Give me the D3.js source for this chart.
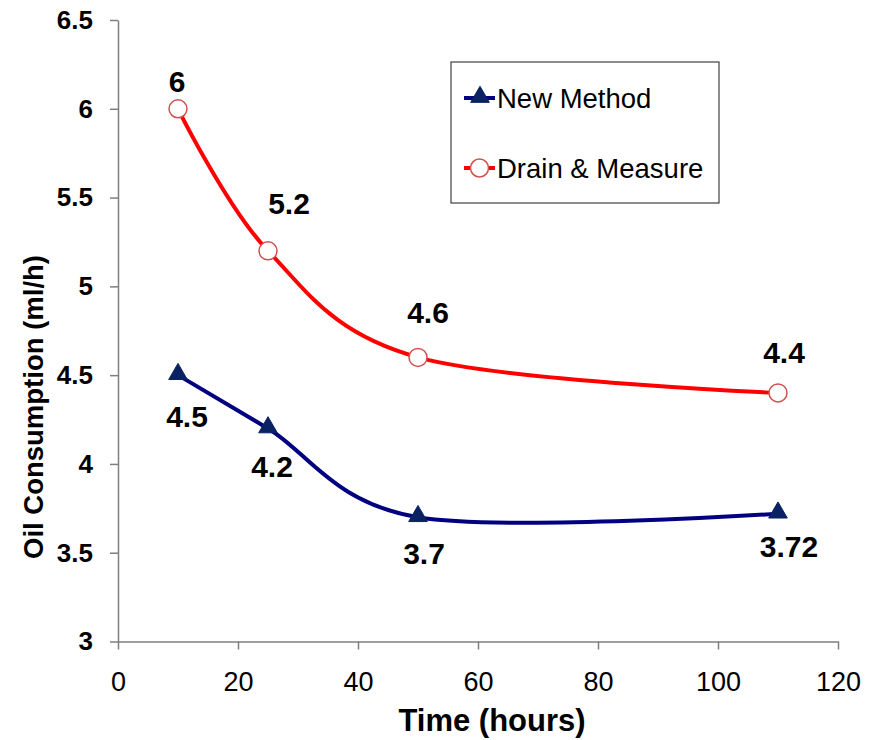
<!DOCTYPE html>
<html>
<head>
<meta charset="utf-8">
<script src="https://cdn.jsdelivr.net/npm/d3@7"></script>
<style>
  html, body { margin: 0; padding: 0; background: #fff; }
  svg { display: block; font-family: "Liberation Sans", Arial, sans-serif; }
</style>
</head>
<body>
<svg id="chart" width="879" height="740"></svg>
<script>
// Oil consumption measured over running time
const hours = [10, 25, 50, 110];
const newMethod = [4.5, 4.2, 3.7, 3.72];
const drainMeasure = [6, 5.2, 4.6, 4.4];
const seriesNames = ["New Method", "Drain & Measure"];
const xTicks = [0, 20, 40, 60, 80, 100, 120];
const yTicks = [3, 3.5, 4, 4.5, 5, 5.5, 6, 6.5];

// hand-placed label nudges (dx, dy from the marker), one per point
const newNudge = [[9, 41], [4, 38], [6, 36], [11, 33]];
const drainNudge = [[-1, -28], [21, -48], [10, -45], [6, -41]];

const svg = d3.select("#chart");
const x = d3.scaleLinear().domain([0, 120]).range([118, 838]);
const y = d3.scaleLinear().domain([3, 6.5]).range([641.5, 20]);
const axisColor = "#7f7f7f";

// y axis
const yAxis = svg.append("g").attr("transform", "translate(118,0)")
  .call(d3.axisLeft(y).tickValues(yTicks).tickSize(8).tickSizeOuter(0).tickPadding(17)
    .tickFormat(d => String(d)));
yAxis.select(".domain").attr("stroke", axisColor).attr("stroke-width", 1.5);
yAxis.selectAll(".tick line").attr("stroke", axisColor).attr("stroke-width", 1.5);
yAxis.selectAll(".tick text").attr("font-size", 26).attr("font-weight", "bold")
  .attr("fill", "#000").attr("font-family", "'Liberation Sans', Arial, sans-serif");

// x axis
const xAxis = svg.append("g").attr("transform", "translate(0,641.5)")
  .call(d3.axisBottom(x).tickValues(xTicks).tickSize(8).tickSizeOuter(0).tickPadding(22));
xAxis.select(".domain").attr("stroke", axisColor).attr("stroke-width", 1.5);
xAxis.selectAll(".tick line").attr("stroke", axisColor).attr("stroke-width", 1.5);
xAxis.selectAll(".tick text").attr("font-size", 27).attr("fill", "#000")
  .attr("font-family", "'Liberation Sans', Arial, sans-serif");

// axis titles
svg.append("text")
  .attr("transform", "translate(43,407) rotate(-90)")
  .attr("text-anchor", "middle").attr("font-size", 27.5).attr("font-weight", "bold")
  .text("Oil Consumption (ml/h)");
svg.append("text")
  .attr("x", 492).attr("y", 731)
  .attr("text-anchor", "middle").attr("font-size", 31).attr("font-weight", "bold")
  .text("Time (hours)");

// smoothed lines
const line = d3.line().x(d => x(d[0])).y(d => y(d[1])).curve(d3.curveCardinal.tension(0));
const newPts = hours.map((h, i) => [h, newMethod[i]]);
const drainPts = hours.map((h, i) => [h, drainMeasure[i]]);

svg.append("path").attr("d", line(drainPts)).attr("fill", "none")
  .attr("stroke", "#ff0000").attr("stroke-width", 4);
svg.append("path").attr("d", line(newPts)).attr("fill", "none")
  .attr("stroke", "#000080").attr("stroke-width", 4);

const tri = d3.symbol().type(d3.symbolTriangle).size(150);

// markers
svg.append("g").selectAll("circle").data(drainPts).join("circle")
  .attr("cx", d => x(d[0])).attr("cy", d => y(d[1])).attr("r", 9)
  .attr("fill", "#fff").attr("stroke", "#d0504d").attr("stroke-width", 1.5);
svg.append("g").selectAll("path").data(newPts).join("path")
  .attr("d", tri)
  .attr("transform", d => `translate(${x(d[0])},${y(d[1]) - 1})`)
  .attr("fill", "#0b2262").attr("stroke", "#0b2262").attr("stroke-width", 1);

// value labels
function labels(pts, nudge) {
  svg.append("g").selectAll("text").data(pts).join("text")
    .attr("x", (d, i) => x(d[0]) + nudge[i][0])
    .attr("y", (d, i) => y(d[1]) + nudge[i][1])
    .attr("dy", "0.36em")
    .attr("text-anchor", "middle").attr("font-size", 30).attr("font-weight", "bold")
    .text(d => String(d[1]));
}
labels(drainPts, drainNudge);
labels(newPts, newNudge);

// legend
const lg = svg.append("g");
lg.append("rect").attr("x", 451).attr("y", 62).attr("width", 268).attr("height", 141)
  .attr("fill", "#fff").attr("stroke", "#404040").attr("stroke-width", 1.2);
const legendRows = [
  { name: seriesNames[0], y: 98, color: "#000080" },
  { name: seriesNames[1], y: 168, color: "#ff0000" }
];
legendRows.forEach((r, i) => {
  lg.append("line").attr("x1", 464).attr("x2", 495).attr("y1", r.y).attr("y2", r.y)
    .attr("stroke", r.color).attr("stroke-width", 4);
  if (i === 0) {
    lg.append("path").attr("d", tri).attr("transform", `translate(480,${r.y - 1})`)
      .attr("fill", "#0b2262").attr("stroke", "#0b2262").attr("stroke-width", 1);
  } else {
    lg.append("circle").attr("cx", 479.5).attr("cy", r.y).attr("r", 9)
      .attr("fill", "#fff").attr("stroke", "#d0504d").attr("stroke-width", 1.5);
  }
  lg.append("text").attr("x", 497).attr("y", r.y).attr("dy", "0.36em")
    .attr("font-size", 27.5).text(r.name);
});
</script>
</body>
</html>
